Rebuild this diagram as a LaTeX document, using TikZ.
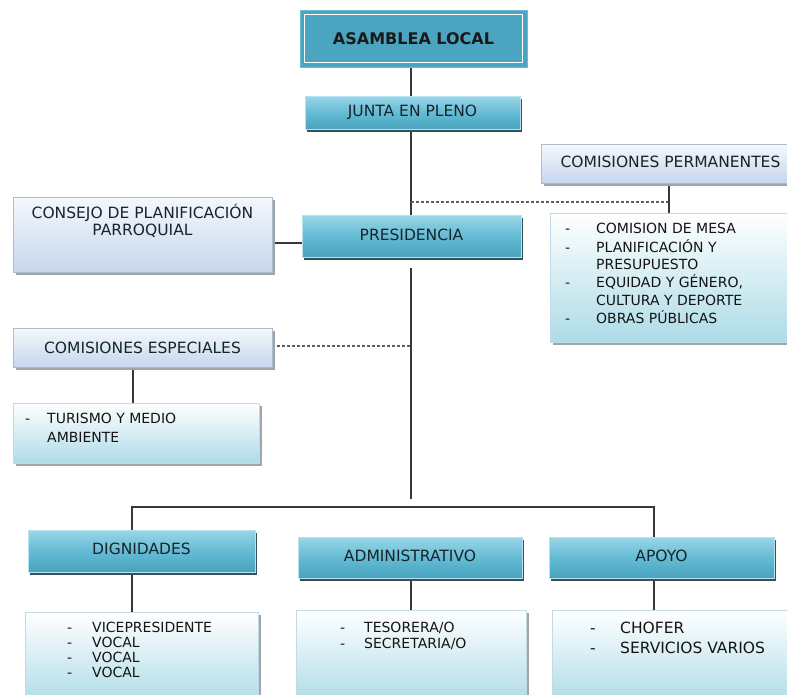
\documentclass[tikz,border=0pt]{standalone}
\usepackage{fontspec}
\setmainfont{DejaVu Sans}
\usetikzlibrary{shadows}
\definecolor{tealA}{HTML}{9AD6E8}
\definecolor{tealB}{HTML}{64BBD4}
\definecolor{tealC}{HTML}{48A3BE}
\definecolor{tealS}{HTML}{34525A}
\definecolor{asamF}{HTML}{4AA5C0}
\definecolor{asamD}{HTML}{6BBBD2}
\definecolor{lightT}{HTML}{F5F8FC}
\definecolor{lightB}{HTML}{C6D6EC}
\definecolor{lightD}{HTML}{AEBACA}
\definecolor{listB}{HTML}{ADDBE7}
\definecolor{listD}{HTML}{C2DAE3}
\definecolor{shad}{HTML}{9CA6AE}
\definecolor{txt}{HTML}{17242B}
\definecolor{conn}{HTML}{383838}
\pgfdeclarelayer{bg}
\pgfsetlayers{bg,main}
\newcommand\hfont{\fontsize{15.5}{18}\selectfont}
\newcommand\lfont{\fontsize{14}{17}\selectfont}
\tikzset{
  tealbox/.style={draw=tealA!70!white, line width=0.6pt, top color=tealA, bottom color=tealC, middle color=tealB,
    general shadow={fill=tealS, shadow xshift=2pt, shadow yshift=-3pt},
    font=\hfont, text=txt, inner sep=0pt},
  lightbox/.style={draw=lightD, line width=0.8pt, top color=lightT, bottom color=lightB,
    general shadow={fill=shad, shadow xshift=2.5pt, shadow yshift=-2.5pt},
    font=\hfont, text=txt, inner sep=0pt},
  listbox/.style={draw=listD, line width=0.8pt, top color=white, bottom color=listB,
    general shadow={fill=shad, shadow xshift=2.5pt, shadow yshift=-2.5pt},
    inner sep=0pt},
  ltxt/.style={anchor=base west, inner sep=0pt, font=\lfont, text=black!92},
  htxt/.style={anchor=base, inner sep=0pt, font=\hfont, text=txt},
  cline/.style={draw=conn, line width=1.3pt},
  dline/.style={draw=conn!80, line width=1.2pt, dash pattern=on 3pt off 2pt},
}
\begin{document}
\begin{tikzpicture}[x=1pt,y=-1pt]
\useasboundingbox (0,0) rectangle (787,694);
\clip (0,0) rectangle (787,694);

% top
\node[fill=asamF, draw=asamD, line width=1pt, minimum width=227pt, minimum height=57pt,
      font=\fontsize{16}{19}\selectfont\bfseries, text=black!90, inner sep=0pt] (asam) at (413.5,38.5) {ASAMBLEA LOCAL};
\draw[white, line width=1.6pt] ([shift={(5,5)}]asam.north west) rectangle ([shift={(-5,-5)}]asam.south east);
\node[tealbox, minimum width=215pt, minimum height=33pt] (junta) at (412.5,112.5) {JUNTA EN PLENO};
\node[tealbox, minimum width=219pt, minimum height=42pt] (pres) at (411.5,236) {\raisebox{3pt}{PRESIDENCIA}};

% left light boxes
\node[lightbox, minimum width=259pt, minimum height=75pt] (consejo) at (142.5,234.5) {};
\node[htxt] (consejo1) at (142.5,218.5) {CONSEJO DE PLANIFICACIÓN};
\node[htxt] (consejo2) at (142.5,235) {PARROQUIAL};
\node[lightbox, minimum width=259pt, minimum height=39pt] (ce) at (142.5,347.5) {COMISIONES ESPECIALES};
\node[listbox, minimum width=246pt, minimum height=60pt] (tur) at (136,433) {};
\node[ltxt] (tur0) at (25,423) {-};
\node[ltxt] (tur1) at (47,423) {TURISMO Y MEDIO};
\node[ltxt] (tur2) at (47,442) {AMBIENTE};

% right
\node[lightbox, minimum width=259pt, minimum height=39pt] (comperm) at (670.5,163.5) {\raisebox{3pt}{COMISIONES PERMANENTES}};
\node[listbox, minimum width=250pt, minimum height=129pt] (cplist) at (675,277.5) {};
\node[ltxt] (cpd1) at (565,233) {-};
\node[ltxt] (cpd2) at (565,252) {-};
\node[ltxt] (cpd3) at (565,287) {-};
\node[ltxt] (cpd4) at (565,323) {-};
\node[ltxt] (cp1) at (596,233) {COMISION DE MESA};
\node[ltxt] (cp2) at (596,252) {PLANIFICACIÓN Y};
\node[ltxt] (cp3) at (596,269) {PRESUPUESTO};
\node[ltxt] (cp4) at (596,287) {EQUIDAD Y GÉNERO,};
\node[ltxt] (cp5) at (596,305) {CULTURA Y DEPORTE};
\node[ltxt] (cp6) at (596,323) {OBRAS PÚBLICAS};

% bottom headers
\node[tealbox, minimum width=227pt, minimum height=42pt] (dign) at (141.5,551) {\raisebox{4pt}{DIGNIDADES}};
\node[tealbox, minimum width=224pt, minimum height=41pt] (admin) at (410,557.5) {\raisebox{4pt}{ADMINISTRATIVO}};
\node[tealbox, minimum width=225pt, minimum height=41pt] (apoyo) at (661.5,557.5) {\raisebox{4pt}{APOYO}};

% bottom lists
\node[listbox, minimum width=233pt, minimum height=93pt] (dlist) at (141.5,658.5) {};
\node[ltxt] (dd1) at (67,632) {-};
\node[ltxt] (dd2) at (67,647) {-};
\node[ltxt] (dd3) at (67,662) {-};
\node[ltxt] (dd4) at (67,677) {-};
\node[ltxt] (dl1) at (92,632) {VICEPRESIDENTE};
\node[ltxt] (dl2) at (92,647) {VOCAL};
\node[ltxt] (dl3) at (92,662) {VOCAL};
\node[ltxt] (dl4) at (92,677) {VOCAL};

\node[listbox, minimum width=230pt, minimum height=95pt] (alist) at (411,657.5) {};
\node[ltxt] (ad1) at (340,632) {-};
\node[ltxt] (ad2) at (340,648) {-};
\node[ltxt] (al1) at (364,632) {TESORERA/O};
\node[ltxt] (al2) at (364,648) {SECRETARIA/O};

\node[listbox, minimum width=248pt, minimum height=95pt] (plist) at (676,657.5) {};
\node[ltxt, font=\hfont] (pd1) at (590,633) {-};
\node[ltxt, font=\hfont] (pd2) at (590,653) {-};
\node[ltxt, font=\hfont] (pl1) at (620,633) {CHOFER};
\node[ltxt, font=\hfont] (pl2) at (620,653) {SERVICIOS VARIOS};

% connectors
\coordinate (tx) at (411,0);
\coordinate (dj) at (411,202);
\coordinate (dk) at (669,202);
\coordinate (t2) at (411,268);
\coordinate (t3) at (411,499);
\coordinate (cx) at (133,0);
\coordinate (b1) at (132,507);
\coordinate (b2) at (654,507);
\begin{pgfonlayer}{bg}
\fill[white] (0,0) rectangle (787,694);
\draw[cline] (asam.south -| tx) -- (junta.north -| tx);
\draw[cline] (junta.south -| tx) -- (pres.north -| tx);
\draw[dline] (dj) -- (dk);
\draw[cline] (comperm.south -| dk) -- (cplist.north -| dk);
\draw[cline] (consejo.east |- 0,243) -- (pres.west |- 0,243);
\draw[cline] (t2) -- (t3);
\draw[dline] (ce.east |- 0,346) -- (tx |- 0,346);
\draw[cline] (ce.south -| cx) -- (tur.north -| cx);
\draw[cline] (dign.north -| b1) -- (b1) -- (b2) -- (apoyo.north -| b2);
\draw[cline] (dign.south -| b1) -- (dlist.north -| b1);
\draw[cline] (admin.south -| tx) -- (alist.north -| tx);
\draw[cline] (apoyo.south -| b2) -- (plist.north -| b2);
\end{pgfonlayer}
\end{tikzpicture}
\end{document}
